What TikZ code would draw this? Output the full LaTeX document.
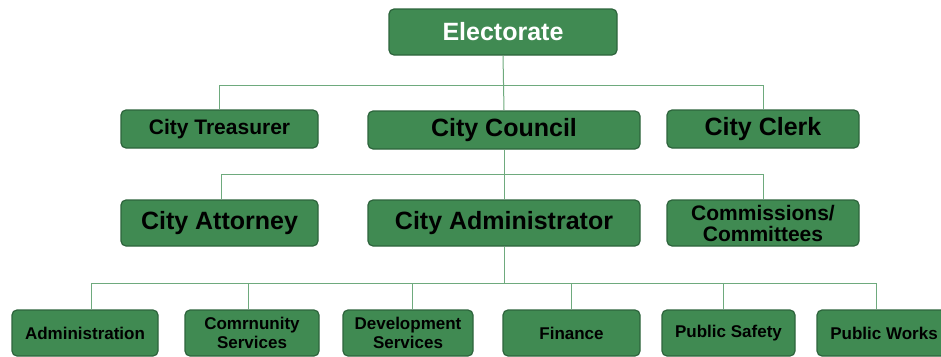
\documentclass[tikz,border=0pt]{standalone}
\usepackage{fontspec}
\setmainfont{Liberation Sans}
\definecolor{boxgreen}{RGB}{64,138,82}
\definecolor{edgegreen}{RGB}{45,100,60}
\definecolor{linkgreen}{RGB}{110,170,125}

\begin{document}
\begin{tikzpicture}[x=1pt, y=-1pt,
  every node/.style = {shape=rectangle, rounded corners=5pt, draw=edgegreen, line width=1.2pt,
    fill=boxgreen, align=center, inner sep=0pt},
  big/.style = {font=\fontsize{25}{27}\selectfont\bfseries},
  mid/.style = {font=\fontsize{21}{21}\selectfont\bfseries},
  small/.style = {font=\fontsize{17}{19}\selectfont\bfseries},
  link/.style = {draw=linkgreen, line width=1pt}]
  \clip (0,0) rectangle (941,356);
  % top
  \node[big, text=white, minimum width=228, minimum height=46] (elec) at (503,32) {Electorate};
  % second row
  \node[mid, minimum width=197, minimum height=38] (treas) at (219.5,129) {City Treasurer};
  \node[big, minimum width=272, minimum height=38] (council) at (504,130) {City Council};
  \node[big, minimum width=192, minimum height=38] (clerk) at (763,129) {City Clerk};
  % third row
  \node[big, minimum width=197, minimum height=46] (att) at (219.5,223) {City Attorney};
  \node[big, minimum width=272, minimum height=46] (cadm) at (504,223) {City Administrator};
  \node[mid, minimum width=192, minimum height=46] (comm) at (763,223) {Commissions/\\Committees};
  % departments
  \node[small, minimum width=146, minimum height=46] (adm) at (85,333) {Administration};
  \node[small, minimum width=134, minimum height=46] (com) at (252,333) {Comrnunity\\Services};
  \node[small, minimum width=130, minimum height=46] (dev) at (408,333) {Development\\Services};
  \node[small, minimum width=137, minimum height=46] (fin) at (571.5,333) {Finance};
  \node[small, minimum width=133, minimum height=46] (ps) at (728.5,333) {Public Safety};
  \node[small, minimum width=134, minimum height=46] (pw) at (884,333) {Public Works};

  \coordinate (bus1) at (504,85);
  \coordinate (bus2) at (504,174);
  \coordinate (bus3) at (504,283);

  \draw[link] (elec.south) -- (council.north);
  \draw[link] (bus1) -| (treas.north);
  \draw[link] (bus1) -| (clerk.north);
  \draw[link] (council.south) -- (cadm.north);
  \draw[link] (bus2) -| ([xshift=2pt]att.north);
  \draw[link] (bus2) -| (comm.north);
  \draw[link] (cadm.south) -- (bus3);
  \foreach \n/\s in {adm/6, com/-4, dev/4, fin/0, ps/-5.5, pw/-8}
    \draw[link] (bus3) -| ([xshift=\s pt]\n.north);
\end{tikzpicture}
\end{document}
